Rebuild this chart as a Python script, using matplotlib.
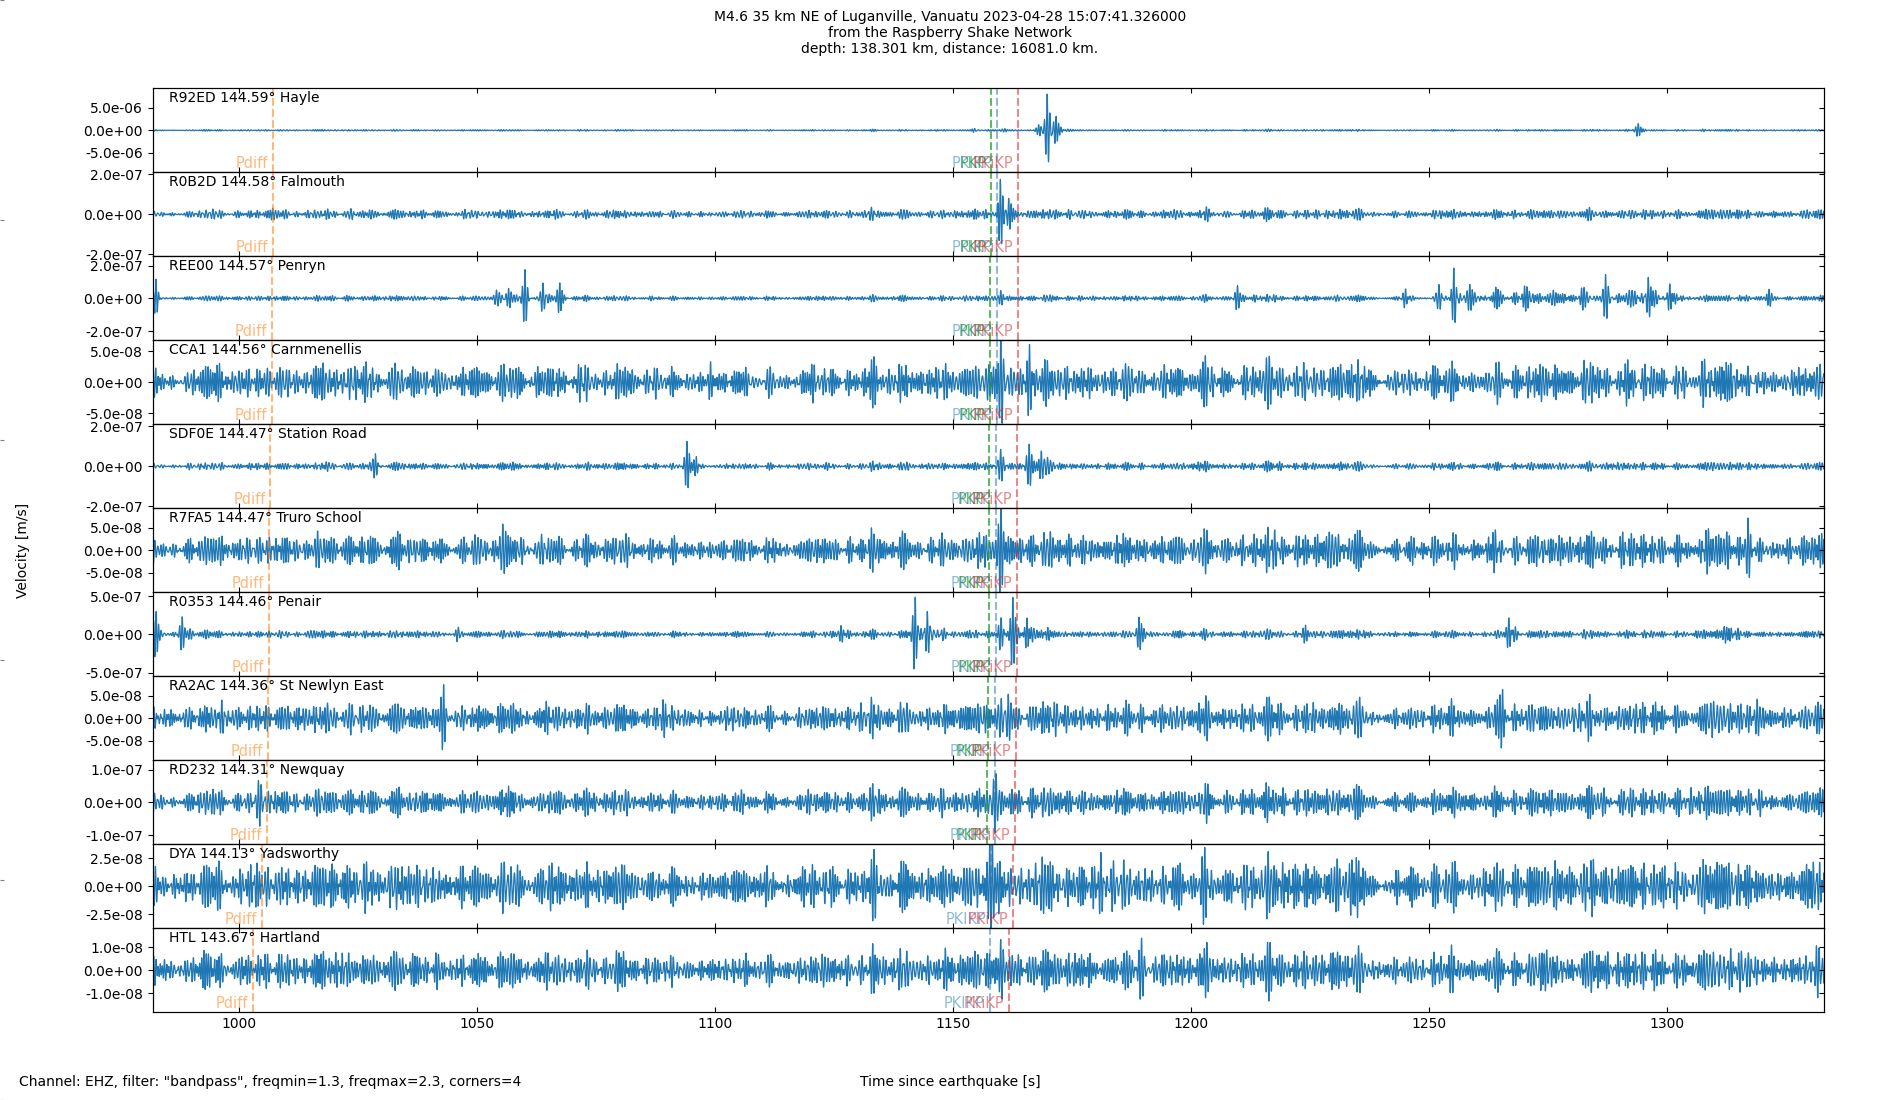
import numpy as np
import matplotlib.pyplot as plt
import matplotlib.transforms as mtransforms
from matplotlib.ticker import FormatStrFormatter

plt.rcParams['font.size'] = 10

title = ("M4.6 35 km NE of Luganville, Vanuatu 2023-04-28 15:07:41.326000\n"
         "from the Raspberry Shake Network\n"
         "depth: 138.301 km, distance: 16081.0 km.")
footer = 'Channel: EHZ, filter: "bandpass", freqmin=1.3, freqmax=2.3, corners=4'

# station list, top to bottom
stations = ["R92ED", "R0B2D", "REE00", "CCA1", "SDF0E", "R7FA5", "R0353",
            "RA2AC", "RD232", "DYA", "HTL"]
places = ["Hayle", "Falmouth", "Penryn", "Carnmenellis", "Station Road",
          "Truro School", "Penair", "St Newlyn East", "Newquay",
          "Yadsworthy", "Hartland"]
dists = [144.59, 144.58, 144.57, 144.56, 144.47, 144.47, 144.46, 144.36,
         144.31, 144.13, 143.67]

# y range (+/-) and tick step per trace
ylims = [9.4e-6, 2.1e-7, 2.57e-7, 6.8e-8, 2.1e-7, 9.4e-8, 5.5e-7, 9.4e-8,
         1.28e-7, 3.77e-8, 1.82e-8]
ysteps = [5e-6, 2e-7, 2e-7, 5e-8, 2e-7, 5e-8, 5e-7, 5e-8, 1e-7, 2.5e-8, 1e-8]

# background noise level (approx peak) per trace, m/s
noise = [0.2e-6, 2.4e-8, 1.8e-8, 3.1e-8, 2.0e-8, 3.8e-8, 5.0e-8, 3.6e-8,
         4.3e-8, 2.2e-8, 0.85e-8]

# arrivals: (time s, peak m/s, coda length s)
bursts = [
    [(1169.7, 6.4e-6, 1.2), (1171.6, 2.0e-6, 2.5), (1167.9, 1.5e-6, 0.8),
     (1154.5, 0.6e-6, 0.8), (1160.8, 0.4e-6, 2.0), (1203.0, 0.35e-6, 1.0),
     (1293.9, 1.4e-6, 0.8)],
    [(1159.9, 1.35e-7, 1.0), (1161.6, 0.6e-7, 3.0), (1007.0, 0.3e-7, 2.0),
     (1023.5, 0.3e-7, 2.0), (1097.0, 0.25e-7, 2.0)],
    [(982.5, 0.9e-7, 1.0), (1054.0, 0.5e-7, 1.0), (1056.6, 0.8e-7, 1.5),
     (1060.0, 1.7e-7, 1.0), (1063.8, 1.0e-7, 1.5), (1067.3, 0.8e-7, 1.5),
     (1160.0, 0.4e-7, 1.0), (1209.7, 0.8e-7, 1.5), (1245.0, 0.5e-7, 3.0),
     (1252.0, 0.7e-7, 2.0), (1255.2, 1.7e-7, 1.5), (1258.5, 0.9e-7, 5.0),
     (1264.0, 0.8e-7, 5.0), (1270.0, 0.8e-7, 5.0), (1276.0, 0.6e-7, 4.0),
     (1282.0, 0.5e-7, 3.0), (1287.0, 1.2e-7, 2.5), (1292.0, 0.9e-7, 2.5),
     (1296.0, 1.25e-7, 3.0), (1300.5, 0.7e-7, 2.5), (1321.4, 0.5e-7, 2.0)],
    [(1160.0, 5.0e-8, 1.0), (1166.0, 3.8e-8, 1.0), (1099.0, 3.8e-8, 1.0),
     (1315.0, 3.8e-8, 1.0)],
    [(1028.6, 0.45e-7, 2.0), (1094.0, 1.2e-7, 1.5), (1096.0, 0.5e-7, 3.0),
     (1159.9, 0.7e-7, 1.0), (1165.9, 1.3e-7, 1.5), (1168.5, 0.6e-7, 6.0)],
    [(1055.4, 5.5e-8, 0.8), (1160.0, 7.0e-8, 1.0), (1229.0, 3.5e-8, 1.0),
     (1317.0, 4.8e-8, 1.0)],
    [(982.5, 3.2e-7, 3.0), (988.0, 2.2e-7, 2.5), (1015.0, 0.7e-7, 2.0),
     (1046.0, 1.1e-7, 1.5), (1126.4, 1.3e-7, 2.0), (1142.0, 4.2e-7, 1.5),
     (1144.5, 2.0e-7, 4.0), (1160.0, 2.2e-7, 1.5), (1162.5, 3.4e-7, 2.0),
     (1165.5, 2.0e-7, 6.0), (1189.0, 1.9e-7, 4.0), (1224.0, 1.1e-7, 2.0),
     (1232.0, 0.7e-7, 1.5), (1266.7, 1.9e-7, 3.5), (1306.0, 0.6e-7, 1.0),
     (1312.5, 1.5e-7, 3.5)],
    [(1042.9, 5.0e-8, 0.8), (1089.0, 4.0e-8, 1.0), (1160.0, 7.0e-8, 1.2),
     (1161.5, 4.0e-8, 3.0), (1265.4, 4.5e-8, 1.0), (1318.9, 4.5e-8, 1.0)],
    [(1004.0, 6.0e-8, 1.0), (1159.0, 8.5e-8, 1.0), (1305.0, 6.0e-8, 1.5)],
    [(1158.2, 3.2e-8, 0.8), (1181.0, 2.6e-8, 1.0)],
    [(1160.0, 1.0e-8, 1.0), (1189.5, 1.15e-8, 1.0)],
]

# theoretical arrivals per trace (s), nan = phase not present
pdiff = [1007.0, 1007.0, 1006.8, 1006.8, 1006.5, 1006.2, 1006.2, 1006.0,
         1005.7, 1004.7, 1002.9]
pkp = [1157.9, 1157.9, 1157.8, 1157.8, 1157.5, 1157.5, 1157.5, 1157.2,
       1157.1, np.nan, np.nan]
pkikp = [1159.2, 1159.2, 1159.2, 1159.1, 1159.0, 1159.0, 1159.0, 1158.8,
         1158.7, 1158.0, 1157.6]
pkikp_inner = [1163.6, 1163.6, 1163.6, 1163.5, 1163.3, 1163.3, 1163.3,
               1163.1, 1163.0, 1162.6, 1161.7]

phases = [("Pdiff", pdiff, "tab:orange", 0.55),
          ("PKP", pkp, "tab:green", 0.75),
          ("PKIKP", pkikp, "tab:blue", 0.5),
          ("PKiKP", pkikp_inner, "tab:red", 0.55)]

t0, t1 = 981.8, 1333.0
fs = 50.0
t = np.arange(t0, t1, 1 / fs)


def carrier(k):
    # band limited wiggle 1.3-2.3 Hz, same band as the filter
    # (quadratic Weyl sequences so the terms never line up)
    n = np.arange(1, 81)
    fr = 1.3 + 1.0 * ((n ** 2 * 0.7548776662 + n * 0.1234 + k * 0.31) % 1.0)
    ph = 2 * np.pi * ((n ** 2 * 0.5698402910 + n * 0.4142 + k * 0.2718) % 1.0)
    c = np.cos(2 * np.pi * fr[:, None] * t[None, :] + ph[:, None]).sum(axis=0)
    return c / np.percentile(np.abs(c), 99)


def trace(i):
    y = noise[i] * carrier(i)
    coda_c = carrier(i + 40)
    for tb, amp, coda in bursts[i]:
        dt = t - tb
        spike = amp * np.exp(-(dt / 0.6) ** 2) * np.cos(2 * np.pi * 1.8 * dt)
        env = np.where(dt < 0, np.exp(-(dt / 0.5) ** 2), np.exp(-dt / coda))
        y = y + spike + 0.55 * amp * env * coda_c
    return y


fig = plt.figure(figsize=(19, 11), dpi=100)

# full-figure helper axes (only its small tick marks show at the left edge)
ax_bg = fig.add_axes([0, 0, 1, 1], frameon=False)
ax_bg.set_xticks([])
ax_bg.tick_params(axis='y', direction='in', length=3, width=0.8,
                  color='0.5', labelleft=False)

axes = fig.subplots(len(stations), 1, sharex=True, gridspec_kw=dict(hspace=0))
fig.subplots_adjust(left=0.0804, right=0.9602, top=0.9197, bottom=0.0797)

for i, ax in enumerate(axes):
    ax.plot(t, trace(i), color='tab:blue', lw=0.9)
    lim = ylims[i]
    ax.set_ylim(-lim, lim)
    ax.set_yticks([-ysteps[i], 0, ysteps[i]])
    ax.yaxis.set_major_formatter(FormatStrFormatter('%.1e'))
    ax.tick_params(axis='x', direction='in', top=True, bottom=True)
    ax.set_xlim(t0, t1)
    rax = ax.twinx()
    rax.set_ylim(-lim, lim)
    rax.set_yticks([-ysteps[i], 0, ysteps[i]])
    rax.tick_params(axis='y', direction='in', labelright=False)

    ax.text(0.01, 0.97, f"{stations[i]} {dists[i]:.2f}\u00b0 {places[i]}",
            transform=ax.transAxes, va='top')

    trans = mtransforms.blended_transform_factory(ax.transData, ax.transAxes)
    for name, arr, col, a in phases:
        ta = arr[i]
        if np.isnan(ta):
            continue
        ax.axvline(ta, color=col, ls='--', lw=1.5, alpha=a)
        ax.text(ta - 1.0, 0.02, name, color=col, alpha=a, ha='right',
                va='bottom', transform=trans, fontsize=10.5)

axes[-1].set_xticks([1000, 1050, 1100, 1150, 1200, 1250, 1300])

fig.suptitle(title, y=0.991, fontsize=10)
fig.supylabel("Velocity [m/s]", x=0.0085, fontsize=10)
fig.supxlabel("Time since earthquake [s]", y=0.01, fontsize=10)
fig.text(0.01, 0.01, footer, va='bottom')

fig.savefig("out.png", dpi=100)
